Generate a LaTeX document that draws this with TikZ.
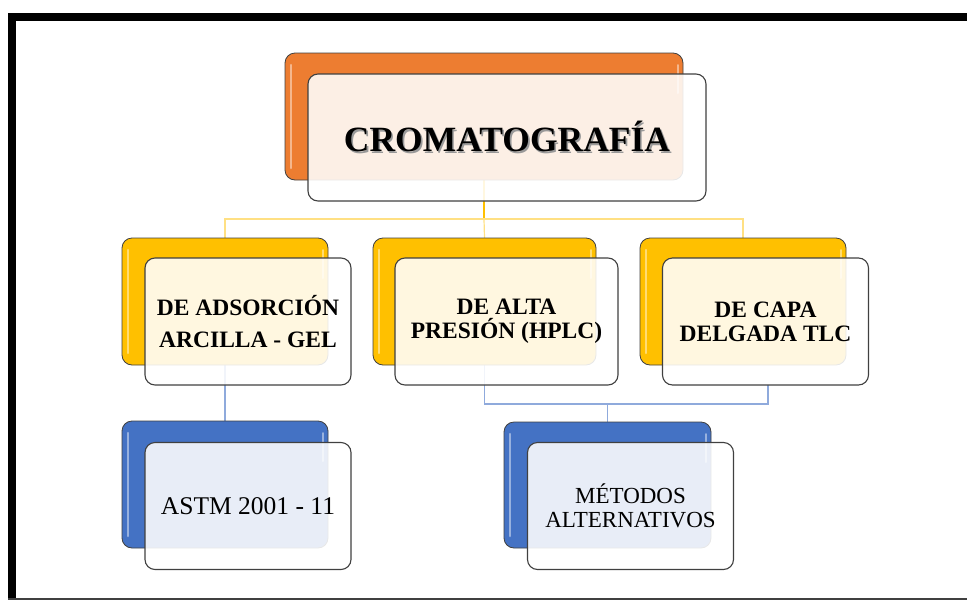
\documentclass[tikz,border=0pt]{standalone}
\usepackage{fontspec}
\setmainfont{Liberation Serif}
\usetikzlibrary{calc,positioning,backgrounds}

\definecolor{orangeback}{HTML}{ED7D31}
\definecolor{goldback}{HTML}{FFC000}
\definecolor{blueback}{HTML}{4472C4}
\definecolor{framegray}{HTML}{404040}
\definecolor{linkgold}{HTML}{FFC000}
\definecolor{linkpale}{HTML}{FFE083}
\definecolor{linkblue}{HTML}{8FAADC}

% text with a soft shadow
\newcommand{\shtext}[1]{\rlap{\kern1.6pt\raisebox{-1.6pt}{\textcolor{black!40}{#1}}}#1}

\tikzset{
  backbox/.style={rectangle, rounded corners=10pt, draw=framegray, line width=0.8pt,
    fill=#1, minimum width=206pt, minimum height=127pt, inner sep=0pt, outer sep=0pt,
    path picture={
      \draw[white, opacity=0.45, line width=2.5pt, line cap=round]
        ([xshift=6pt,yshift=-12pt]path picture bounding box.north west) --
        ([xshift=6pt,yshift=12pt]path picture bounding box.south west);
      \draw[white, opacity=0.45, line width=2pt, line cap=round]
        ([xshift=-5pt,yshift=-12pt]path picture bounding box.north east) --
        ([xshift=-5pt,yshift=-40pt]path picture bounding box.north east);}},
  frontbox/.style={rectangle, rounded corners=10pt, draw=framegray, line width=1.1pt,
    fill=white, fill opacity=0.88, text opacity=1, minimum width=206pt,
    minimum height=127pt, inner sep=0pt, outer sep=0pt, align=center},
  link/.style={line width=1.2pt},
  levelone/.style={font=\bfseries\fontsize{23.5}{24}\selectfont},
}

\begin{document}
\begin{tikzpicture}[x=1pt, y=-1pt]
  \useasboundingbox (0,0) rectangle (967,600);

  % page frame
  \fill[black] (8,13) rectangle (967,21);
  \fill[black] (8,13) rectangle (16,600);
  \fill[framegray] (8,597.5) rectangle (967,600);

  % top
  \node[backbox=orangeback, minimum width=398pt] (cromback) at (484,116.5) {};
  \node[frontbox, minimum width=398pt, font=\bfseries\fontsize{35.5}{40}\selectfont]
    (crom) at (507,137.5) {\shtext{CROMATOGRAFÍA}};

  % second level
  \node[backbox=goldback] (adsback) at (225,301.5) {};
  \node[frontbox, levelone] (adsorcion) at (248,321.5) {DE ADSORCIÓN\\[8pt]ARCILLA - GEL};

  \node[backbox=goldback, minimum width=223pt] (hplcback) at (484.5,301.5) {};
  \node[frontbox, levelone, minimum width=223pt] (hplc) at (506.5,321.5) {DE ALTA\\PRESIÓN (HPLC)};

  \node[backbox=goldback] (tlcback) at (743,301.5) {};
  \node[frontbox, levelone] (tlc) at (765.5,321.5) {DE CAPA\\DELGADA TLC};

  % third level
  \node[backbox=blueback] (astmback) at (225,484.5) {};
  \node[frontbox, font=\fontsize{25.5}{25}\selectfont] (astm) at (248,506) {ASTM 2001 - 11};

  \node[backbox=blueback, minimum width=207pt, minimum height=126pt] (metback) at (607.5,485) {};
  \node[frontbox, font=\fontsize{23}{24}\selectfont] (metodos) at (630.5,506) {MÉTODOS\\ALTERNATIVOS};

  % connectors
  \begin{scope}[on background layer]
    \coordinate (split) at ($(cromback.south)+(0,39)$);
    \draw[link, linkgold] (cromback.south) -- (split);
    \draw[link, linkpale] (adsback.north) |- (split) -| (tlcback.north);
    \draw[link, linkpale] (split) -- (hplcback.north);

    \draw[link, linkblue] (adsback.south) -- (astmback.north);
    \coordinate (join) at ($(hplcback.south)+(0,39)$);
    \draw[link, linkblue] (hplcback.south) -- (join) -| ([xshift=2.5pt]tlc.south);
    \draw[link, linkblue] (join -| metback.north) -- (metback.north);
  \end{scope}
\end{tikzpicture}
\end{document}
